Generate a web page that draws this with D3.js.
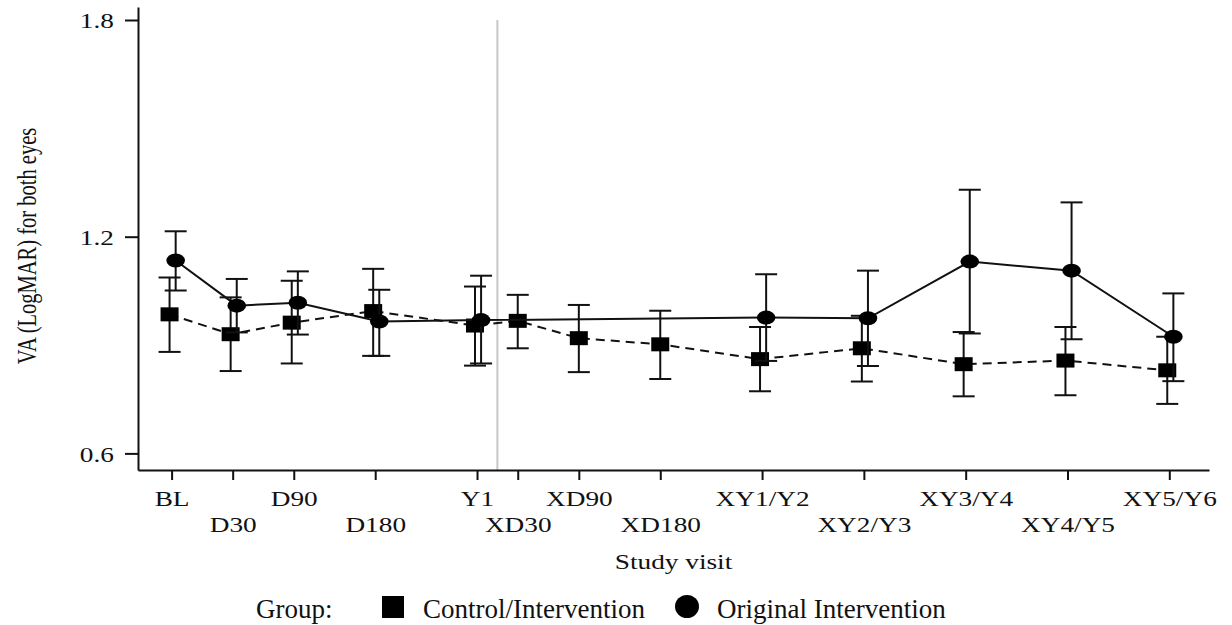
<!DOCTYPE html>
<html>
<head>
<meta charset="utf-8">
<script src="https://cdn.jsdelivr.net/npm/d3@7"></script>
<style>
  body { margin: 0; background: #fff; }
  svg text { font-family: "Liberation Serif", "Times New Roman", serif; fill: #111; }
</style>
</head>
<body>
<svg id="chart" width="1232" height="625"></svg>
<script>
// study visits and their position on the time axis
const visits = ["BL", "D30", "D90", "D180", "Y1", "XD30", "XD90", "XD180", "XY1/Y2", "XY2/Y3", "XY3/Y4", "XY4/Y5", "XY5/Y6"];
const visitTime = [0, 3, 6, 10, 15, 17, 20, 24, 29, 34, 39, 44, 49];
const crossoverTime = 16;
const yTicks = [0.6, 1.2, 1.8];

// Control/Intervention group (squares, dashed)
const controlMean = [0.985, 0.930, 0.962, 0.994, 0.954, 0.967, 0.919, 0.902, 0.861, 0.891, 0.847, 0.857, 0.830];
const controlLow  = [0.881, 0.828, 0.849, 0.870, 0.843, 0.891, 0.825, 0.806, 0.772, 0.799, 0.758, 0.761, 0.737];
const controlHigh = [1.087, 1.032, 1.078, 1.111, 1.062, 1.039, 1.011, 0.995, 0.950, 0.981, 0.936, 0.950, 0.923];

// Original Intervention group (circles, solid) - not seen at XD visits
const origMean = [1.134, 1.009, 1.017, 0.965, 0.969, null, null, null, 0.976, 0.974, 1.131, 1.106, 0.923];
const origLow  = [1.051, 0.935, 0.929, 0.870, 0.849, null, null, null, 0.856, 0.842, 0.932, 0.916, 0.800];
const origHigh = [1.215, 1.083, 1.104, 1.053, 1.092, null, null, null, 1.096, 1.106, 1.330, 1.295, 1.043];

const svg = d3.select('#chart');
const stretch = 1.3; // the source figure is a bit wider than tall, text included
const fontSize = 21;
const plotLeft = 138, plotRight = 1209, plotTop = 7, plotBottom = 470;

const x = d3.scaleLinear().domain([-1.65, 50.95]).range([plotLeft, plotRight]);
const y = d3.scaleLinear().domain([0.554, 1.836]).range([plotBottom, plotTop]);

// build point lists, dodging the two groups a little where both are present
function buildSeries(mean, low, high, shift) {
    let pts = [];
    mean.forEach((m, i) => {
        if (m === null) return;
        let both = controlMean[i] !== null && origMean[i] !== null;
        pts.push({ t: visitTime[i] + (both ? shift : 0), m: m, lo: low[i], hi: high[i] });
    });
    return pts;
}
const control = buildSeries(controlMean, controlLow, controlHigh, -0.1);
const orig = buildSeries(origMean, origLow, origHigh, 0.2);

// crossover reference line
svg.append('line')
    .attr('x1', x(crossoverTime)).attr('x2', x(crossoverTime))
    .attr('y1', y(1.8)).attr('y2', plotBottom)
    .attr('stroke', '#c8c8c8').attr('stroke-width', 2);

// axes
const gx = svg.append('g')
    .attr('transform', `translate(0,${plotBottom})`)
    .call(d3.axisBottom(x).tickValues(visitTime).tickFormat((d, i) => visits[i]).tickSize(10).tickSizeOuter(0));
gx.attr('font-size', fontSize).attr('font-family', null);
gx.select('.domain').attr('stroke', '#111').attr('stroke-width', 2);
gx.selectAll('.tick line').attr('stroke', '#111').attr('stroke-width', 2);
gx.selectAll('.tick text')
    .attr('y', (d, i) => i % 2 ? 62 : 36)
    .attr('dy', null)
    .attr('transform', `scale(${stretch},1)`);

const gy = svg.append('g')
    .attr('transform', `translate(${plotLeft},0)`)
    .call(d3.axisLeft(y).tickValues(yTicks).tickFormat(d3.format('.1f')).tickSize(13).tickSizeOuter(0));
gy.attr('font-size', fontSize).attr('font-family', null);
gy.select('.domain').attr('stroke', '#111').attr('stroke-width', 2);
gy.selectAll('.tick line').attr('stroke', '#111').attr('stroke-width', 2);
gy.selectAll('.tick text')
    .attr('x', -18.5)
    .attr('dy', '0.38em')
    .attr('transform', `scale(${stretch},1)`);

// axis titles
svg.append('text')
    .attr('transform', `translate(${(plotLeft + plotRight) / 2},569) scale(${stretch},1)`)
    .attr('text-anchor', 'middle').attr('font-size', fontSize)
    .text('Study visit');
svg.append('text')
    .attr('transform', `translate(36,246) scale(${stretch},1) rotate(-90)`)
    .attr('text-anchor', 'middle').attr('font-size', 20.5)
    .text('VA (LogMAR) for both eyes');

const lineGen = d3.line().x(d => x(d.t)).y(d => y(d.m));

function drawSeries(pts, dashed, shape) {
    let g = svg.append('g');
    g.append('path')
        .datum(pts)
        .attr('d', lineGen)
        .attr('fill', 'none')
        .attr('stroke', '#111')
        .attr('stroke-width', 2)
        .attr('stroke-dasharray', dashed ? '9,6' : null);

    // error bars
    let bars = g.selectAll('g.err').data(pts).enter().append('g').attr('class', 'err')
        .attr('stroke', '#111').attr('stroke-width', 2);
    bars.append('line')
        .attr('x1', d => x(d.t)).attr('x2', d => x(d.t))
        .attr('y1', d => y(d.lo)).attr('y2', d => y(d.hi));
    bars.append('line')
        .attr('x1', d => x(d.t) - 11).attr('x2', d => x(d.t) + 11)
        .attr('y1', d => y(d.hi)).attr('y2', d => y(d.hi));
    bars.append('line')
        .attr('x1', d => x(d.t) - 11).attr('x2', d => x(d.t) + 11)
        .attr('y1', d => y(d.lo)).attr('y2', d => y(d.lo));

    // markers
    if (shape === 'square') {
        g.selectAll('rect.mark').data(pts).enter().append('rect').attr('class', 'mark')
            .attr('x', d => x(d.t) - 9).attr('y', d => y(d.m) - 7)
            .attr('width', 18).attr('height', 14)
            .attr('fill', '#000');
    } else {
        g.selectAll('ellipse.mark').data(pts).enter().append('ellipse').attr('class', 'mark')
            .attr('cx', d => x(d.t)).attr('cy', d => y(d.m))
            .attr('rx', 9.3).attr('ry', 7)
            .attr('fill', '#000');
    }
}

drawSeries(control, true, 'square');
drawSeries(orig, false, 'circle');

// legend
const legend = svg.append('g').attr('font-size', 27);
legend.append('text').attr('x', 256).attr('y', 618).text('Group:');
legend.append('rect').attr('x', 382).attr('y', 596).attr('width', 22).attr('height', 22).attr('fill', '#000');
legend.append('text').attr('x', 423).attr('y', 618).text('Control/Intervention');
legend.append('ellipse').attr('cx', 687).attr('cy', 606.5).attr('rx', 12).attr('ry', 11.5).attr('fill', '#000');
legend.append('text').attr('x', 717).attr('y', 618).text('Original Intervention');
</script>
</body>
</html>
